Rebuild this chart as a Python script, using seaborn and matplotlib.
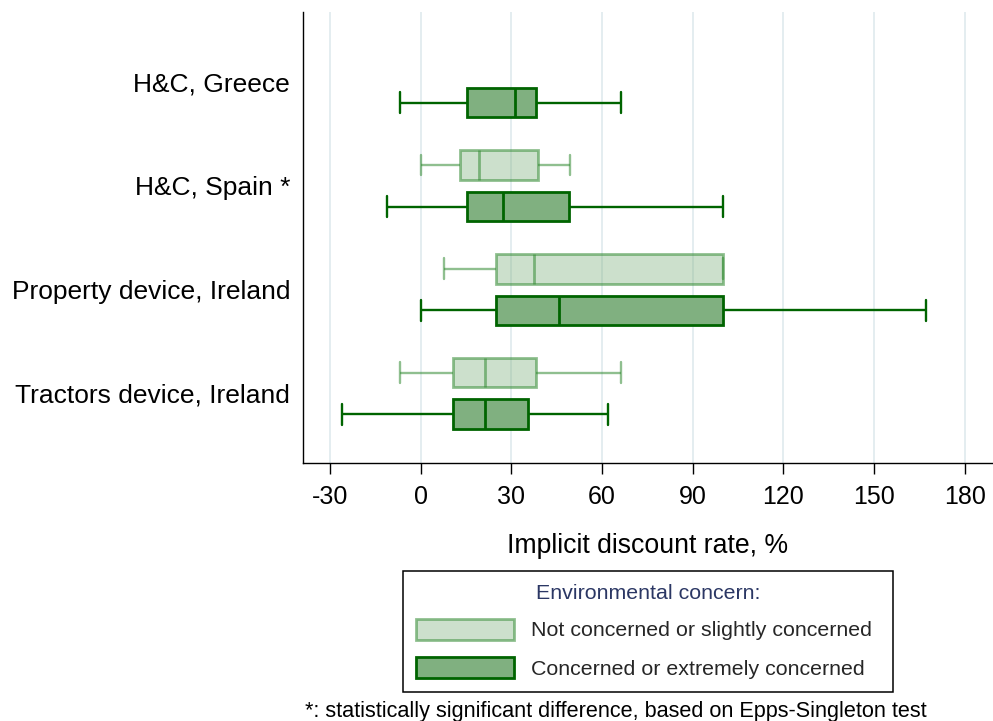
import numpy as np
import pandas as pd
import matplotlib
matplotlib.use("Agg")
import matplotlib.pyplot as plt
from matplotlib.patches import Patch
import seaborn as sns

# Five-number summaries of the implicit discount rate (%), per study and concern group
categories = ["H&C, Greece", "H&C, Spain *", "Property device, Ireland", "Tractors device, Ireland"]
groups = ["Not concerned or slightly concerned", "Concerned or extremely concerned"]

row_category = ["H&C, Greece",
                "H&C, Spain *", "H&C, Spain *",
                "Property device, Ireland", "Property device, Ireland",
                "Tractors device, Ireland", "Tractors device, Ireland"]
row_group = [groups[1],
             groups[0], groups[1],
             groups[0], groups[1],
             groups[0], groups[1]]
whisker_low = [-6.8, 0.0, -11.0, 7.7, 0.0, -6.8, -26.1]
quartile_1 = [15.4, 13.0, 15.2, 24.9, 24.9, 10.8, 10.8]
median = [31.2, 19.3, 27.3, 37.5, 45.8, 21.3, 21.3]
quartile_3 = [38.1, 38.9, 49.0, 100.0, 100.0, 38.2, 35.5]
whisker_high = [66.3, 49.3, 100.0, 100.0, 167.2, 66.4, 62.0]

x_ticks = [-30, 0, 30, 60, 90, 120, 150, 180]

# Expand each summary into the five values that reproduce it exactly
records = []
for cat, grp, lo, q1, md, q3, hi in zip(row_category, row_group, whisker_low,
                                         quartile_1, median, quartile_3, whisker_high):
    for v in (lo, q1, md, q3, hi):
        records.append({"study": cat, "concern": grp, "rate": v})
df = pd.DataFrame(records)

sns.set_style("white")
plt.rcParams["font.family"] = ["Liberation Sans", "DejaVu Sans"]

face = {groups[0]: (0.50, 0.70, 0.50, 0.40), groups[1]: "#80b080"}
edge = {groups[0]: (0.20, 0.55, 0.20, 0.55), groups[1]: "#006400"}

fig = plt.figure(figsize=(9.93, 7.21), dpi=100)
ax = fig.add_axes([302.7 / 993, 1 - 462.7 / 721, (992 - 302.7) / 993, (462.7 - 12) / 721])

for grp in groups:
    sub = df[df["concern"] == grp]
    n_patches = len(ax.patches)
    sns.boxplot(data=sub, x="rate", y="study", hue="concern",
                order=categories, hue_order=groups,
                palette={g: "#80b080" for g in groups},
                linecolor=edge[grp], whis=(0, 100), width=0.8, gap=0.29,
                dodge=True, showfliers=False, legend=False,
                capwidths=0.2,
                boxprops={"linewidth": 2.0},
                whiskerprops={"linewidth": 1.7},
                capprops={"linewidth": 1.7},
                medianprops={"linewidth": 2.0},
                ax=ax)
    for p in ax.patches[n_patches:]:
        p.set_facecolor(face[grp])
        p.set_edgecolor(edge[grp])

ax.set_xlim(-39, 189)
ax.set_ylim(3.668, -0.674)
ax.set_xticks(x_ticks)
ax.set_xticklabels([str(t) for t in x_ticks])
ax.grid(axis="x", color="#e2ecef", linewidth=1.3)
ax.grid(axis="y", visible=False)
ax.set_axisbelow(True)

for side in ("top", "right"):
    ax.spines[side].set_visible(False)
for side in ("left", "bottom"):
    ax.spines[side].set_color("black")
    ax.spines[side].set_linewidth(1.0)

ax.tick_params(axis="x", which="both", bottom=True, length=7.6, width=1.0,
               color="black", pad=8.5, labelsize=18, labelcolor="black")
ax.tick_params(axis="y", left=False, length=0, pad=9, labelsize=19, labelcolor="black")
ax.set_ylabel("")
ax.set_xlabel("Implicit discount rate, %", fontsize=19.2, labelpad=17, color="black")

handles = [Patch(facecolor=face[g], edgecolor=edge[g], linewidth=2.0, label=g) for g in groups]
leg_x0, leg_y1 = 403 / 993, 1 - 571 / 721
leg_w = 490 / 993
leg = fig.legend(handles=handles, title="Environmental concern:",
                 loc="upper left", bbox_to_anchor=(leg_x0, leg_y1 - 0.2, leg_w, 0.2),
                 mode="expand", borderaxespad=0,
                 fontsize=15.4, title_fontsize=15.4,
                 handlelength=4.58, handleheight=1.12, handletextpad=0.8,
                 labelspacing=0.8, borderpad=0.62, frameon=True, fancybox=False)
# tighter gap between the legend title and the first entry
leg._legend_box.sep = 0.8 * 15.4 * 100 / 72 - 6
leg.get_title().set_color("#2b3764")
leg.get_frame().set_edgecolor("black")
leg.get_frame().set_linewidth(1.1)
leg.get_frame().set_alpha(1)

fig.text(305 / 993, 1 - 711 / 721,
         "*: statistically significant difference, based on Epps-Singleton test",
         fontsize=15.6, va="center", ha="left", color="black")

fig.savefig("out.png", dpi=100)
